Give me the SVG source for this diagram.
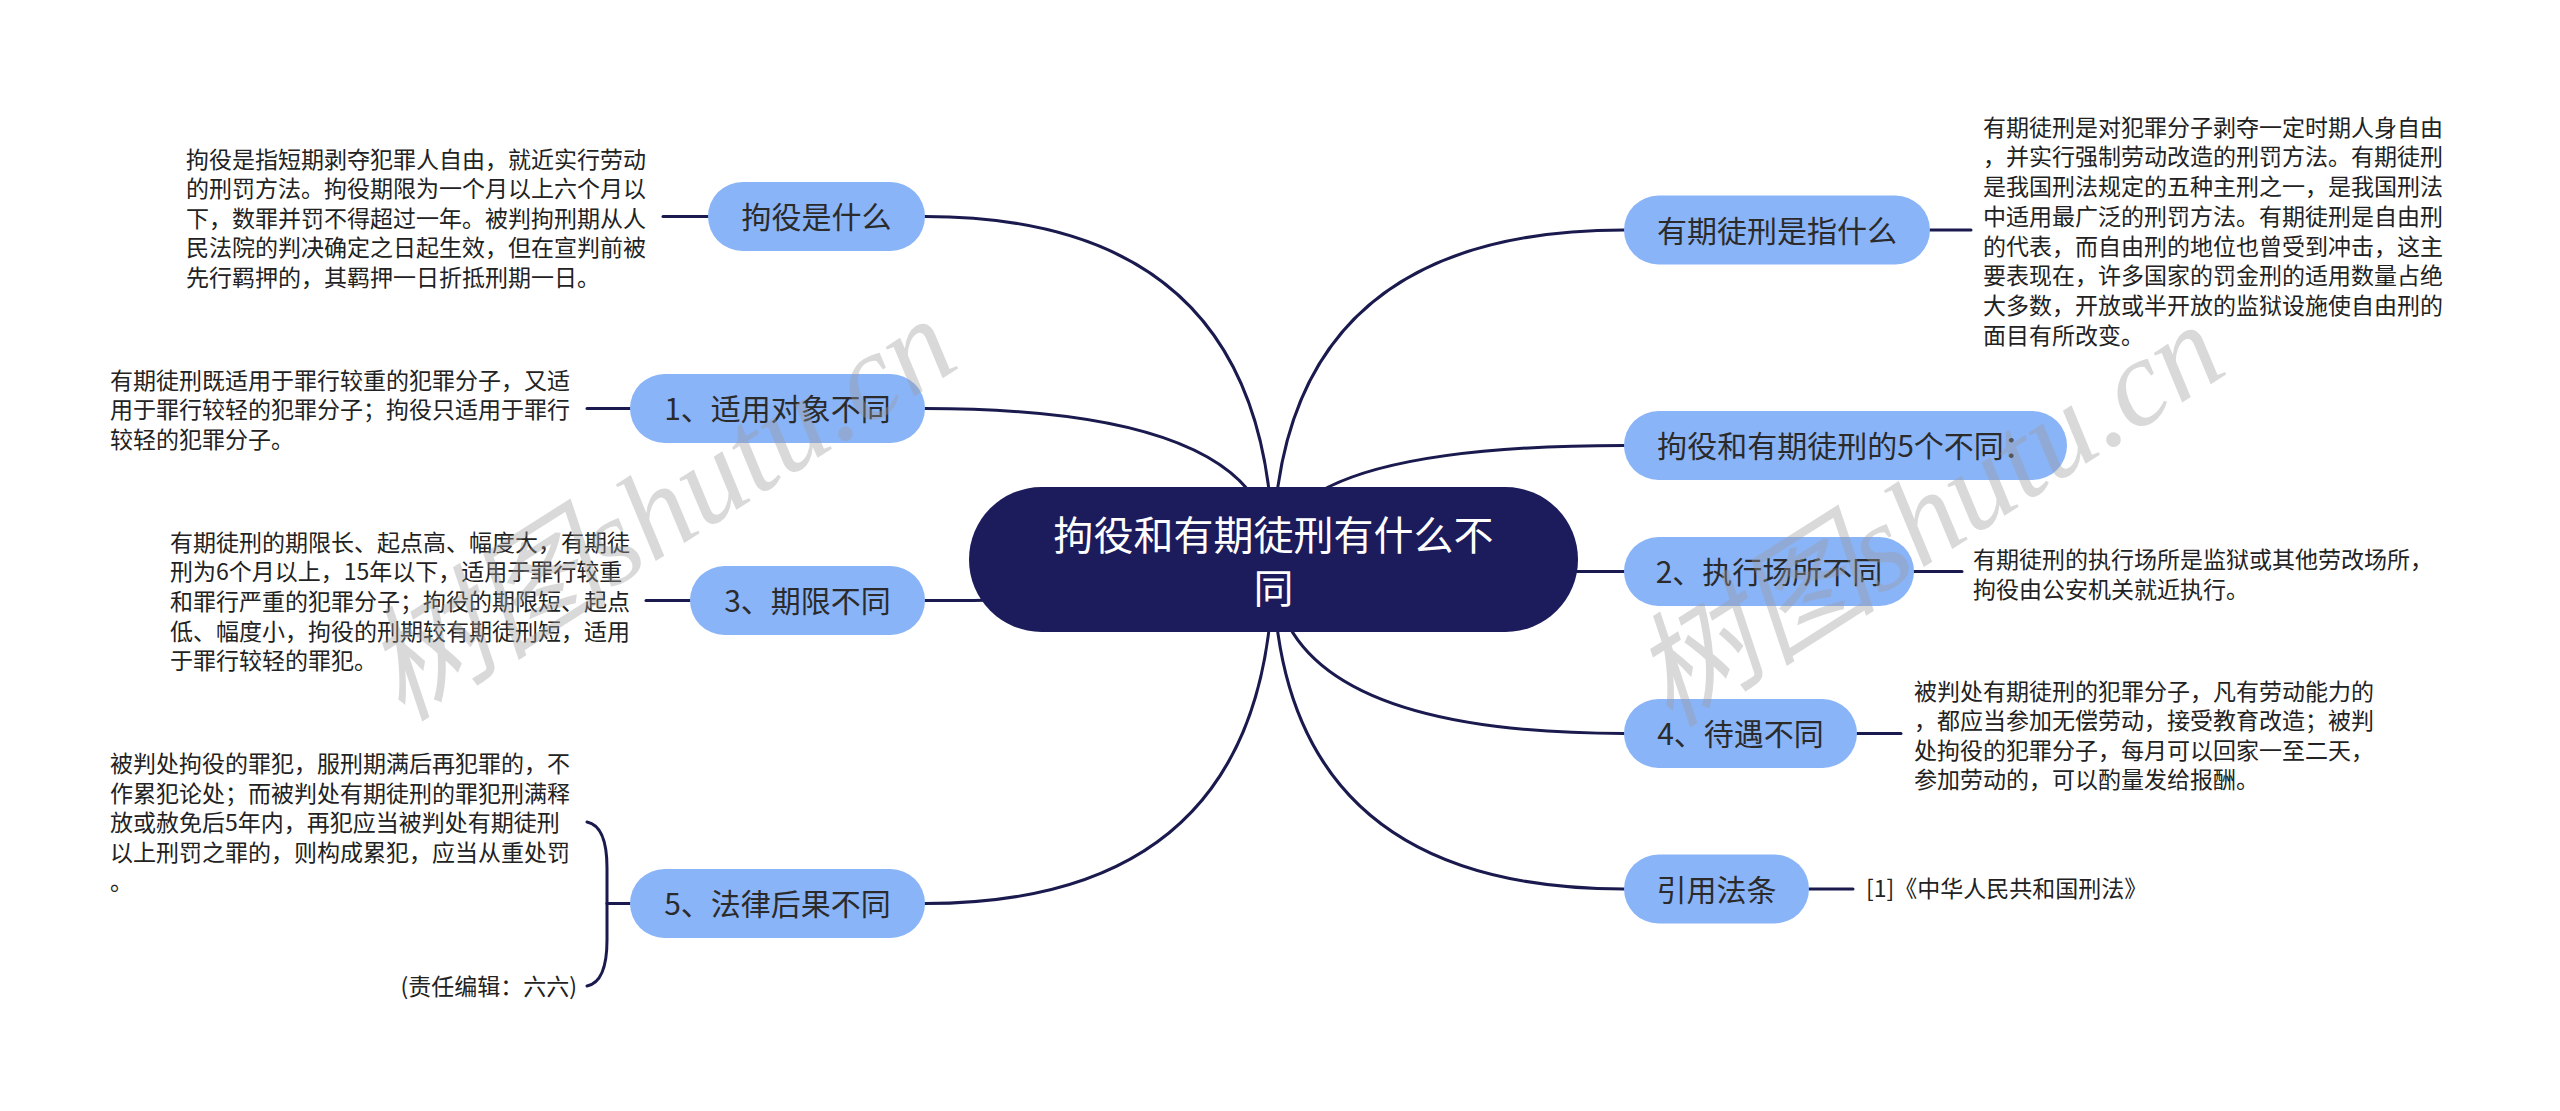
<svg xmlns="http://www.w3.org/2000/svg" width="2560" height="1111" viewBox="0 0 2560 1111">
<style>
.bg{fill:#ffffff}
.wire{fill:none;stroke:#1a1a4e;stroke-width:3;stroke-linecap:round}
.node rect{fill:#8ab4f8}
.node text{font-family:"Noto Sans CJK SC","Noto Sans",sans-serif;font-size:30px;fill:#2b2b2b;text-anchor:middle}
.root rect{fill:#1c1b5b}
.root text{font-family:"Noto Sans CJK SC","Noto Sans",sans-serif;font-size:40px;fill:#ffffff;text-anchor:middle}
.note{font-family:"Noto Sans CJK SC","Noto Sans",sans-serif;font-size:23px;fill:#222222}
.wm{font-family:"Liberation Serif","Noto Sans CJK SC",serif;font-style:italic;font-size:124px;fill:#9a9a9a;fill-opacity:0.38;text-anchor:middle}
</style>
<rect class="bg" x="0" y="0" width="2560" height="1111"/>

<g id="connectors">
  <path class="wire" d="M1273,560 Q1273,216.5 925,216.5"/>
  <path class="wire" d="M1273,560 Q1273,408.5 925,408.5"/>
  <path class="wire" d="M1273,560 Q1273,600.5 925,600.5"/>
  <path class="wire" d="M1273,560 Q1273,903.5 925,903.5"/>
  <path class="wire" d="M1273,560 Q1273,230 1624,230"/>
  <path class="wire" d="M1273,560 Q1273,445.5 1624,445.5"/>
  <path class="wire" d="M1273,560 Q1273,571.5 1624,571.5"/>
  <path class="wire" d="M1273,560 Q1273,733.5 1624,733.5"/>
  <path class="wire" d="M1273,560 Q1273,889 1624,889"/>
  <path class="wire" d="M663,216.5 L708,216.5"/>
  <path class="wire" d="M587,408.5 L630,408.5"/>
  <path class="wire" d="M646,600.5 L690,600.5"/>
  <path class="wire" d="M587,822 Q607,826 607,868 L607,940 Q607,982 587,986"/>
  <path class="wire" d="M607,903.5 L630,903.5"/>
  <path class="wire" d="M1930,230 L1971,230"/>
  <path class="wire" d="M1914,571.5 L1962,571.5"/>
  <path class="wire" d="M1857,733.5 L1901,733.5"/>
  <path class="wire" d="M1809,889 L1853,889"/>
</g>

<g id="root" class="root">
  <rect x="969" y="487" width="609" height="145" rx="72.5"/>
  <text x="1273.5" y="550">拘役和有期徒刑有什么不</text>
  <text x="1273.5" y="603">同</text>
</g>

<g id="n-juyi" class="node">
  <rect x="708" y="182" width="217" height="69" rx="34.5"/>
  <text x="816.5" y="228">拘役是什么</text>
</g>
<g id="n-1" class="node">
  <rect x="630" y="374" width="295" height="69" rx="34.5"/>
  <text x="777.5" y="420">1、适用对象不同</text>
</g>
<g id="n-3" class="node">
  <rect x="690" y="566" width="235" height="69" rx="34.5"/>
  <text x="807.5" y="612">3、期限不同</text>
</g>
<g id="n-5" class="node">
  <rect x="630" y="869" width="295" height="69" rx="34.5"/>
  <text x="777.5" y="915">5、法律后果不同</text>
</g>
<g id="n-youqi" class="node">
  <rect x="1624" y="195.5" width="306" height="69" rx="34.5"/>
  <text x="1777" y="241.5">有期徒刑是指什么</text>
</g>
<g id="n-five" class="node">
  <rect x="1624" y="411" width="443" height="69" rx="34.5"/>
  <text x="1845.5" y="457">拘役和有期徒刑的5个不同：</text>
</g>
<g id="n-2" class="node">
  <rect x="1624" y="537" width="290" height="69" rx="34.5"/>
  <text x="1769" y="583">2、执行场所不同</text>
</g>
<g id="n-4" class="node">
  <rect x="1624" y="699" width="233" height="69" rx="34.5"/>
  <text x="1740.5" y="745">4、待遇不同</text>
</g>
<g id="n-law" class="node">
  <rect x="1624" y="854.5" width="185" height="69" rx="34.5"/>
  <text x="1716.5" y="900.5">引用法条</text>
</g>

<g id="t-juyi">
  <text class="note" x="186" y="167.5">拘役是指短期剥夺犯罪人自由，就近实行劳动</text>
  <text class="note" x="186" y="197.1">的刑罚方法。拘役期限为一个月以上六个月以</text>
  <text class="note" x="186" y="226.7">下，数罪并罚不得超过一年。被判拘刑期从人</text>
  <text class="note" x="186" y="256.3">民法院的判决确定之日起生效，但在宣判前被</text>
  <text class="note" x="186" y="285.9">先行羁押的，其羁押一日折抵刑期一日。</text>
</g>
<g id="t-1">
  <text class="note" x="110" y="388.7">有期徒刑既适用于罪行较重的犯罪分子，又适</text>
  <text class="note" x="110" y="418.3">用于罪行较轻的犯罪分子；拘役只适用于罪行</text>
  <text class="note" x="110" y="447.9">较轻的犯罪分子。</text>
</g>
<g id="t-3">
  <text class="note" x="170" y="550.7">有期徒刑的期限长、起点高、幅度大，有期徒</text>
  <text class="note" x="170" y="580.3">刑为6个月以上，15年以下，适用于罪行较重</text>
  <text class="note" x="170" y="609.9">和罪行严重的犯罪分子；拘役的期限短、起点</text>
  <text class="note" x="170" y="639.5">低、幅度小，拘役的刑期较有期徒刑短，适用</text>
  <text class="note" x="170" y="669.1">于罪行较轻的罪犯。</text>
</g>
<g id="t-5">
  <text class="note" x="110" y="772">被判处拘役的罪犯，服刑期满后再犯罪的，不</text>
  <text class="note" x="110" y="801.6">作累犯论处；而被判处有期徒刑的罪犯刑满释</text>
  <text class="note" x="110" y="831.2">放或赦免后5年内，再犯应当被判处有期徒刑</text>
  <text class="note" x="110" y="860.8">以上刑罚之罪的，则构成累犯，应当从重处罚</text>
  <text class="note" x="110" y="890.4">。</text>
  <text class="note" x="577" y="995" text-anchor="end">(责任编辑：六六)</text>
</g>
<g id="t-youqi">
  <text class="note" x="1983" y="135.7">有期徒刑是对犯罪分子剥夺一定时期人身自由</text>
  <text class="note" x="1983" y="165.4">，并实行强制劳动改造的刑罚方法。有期徒刑</text>
  <text class="note" x="1983" y="195.1">是我国刑法规定的五种主刑之一，是我国刑法</text>
  <text class="note" x="1983" y="224.8">中适用最广泛的刑罚方法。有期徒刑是自由刑</text>
  <text class="note" x="1983" y="254.5">的代表，而自由刑的地位也曾受到冲击，这主</text>
  <text class="note" x="1983" y="284.2">要表现在，许多国家的罚金刑的适用数量占绝</text>
  <text class="note" x="1983" y="313.9">大多数，开放或半开放的监狱设施使自由刑的</text>
  <text class="note" x="1983" y="343.6">面目有所改变。</text>
</g>
<g id="t-2">
  <text class="note" x="1973" y="568">有期徒刑的执行场所是监狱或其他劳改场所，</text>
  <text class="note" x="1973" y="597.5">拘役由公安机关就近执行。</text>
</g>
<g id="t-4">
  <text class="note" x="1914" y="700">被判处有期徒刑的犯罪分子，凡有劳动能力的</text>
  <text class="note" x="1914" y="729.3">，都应当参加无偿劳动，接受教育改造；被判</text>
  <text class="note" x="1914" y="758.6">处拘役的犯罪分子，每月可以回家一至二天，</text>
  <text class="note" x="1914" y="787.9">参加劳动的，可以酌量发给报酬。</text>
</g>
<g id="t-law">
  <text class="note" x="1866" y="897">[1]《中华人民共和国刑法》</text>
</g>

<g id="watermarks">
  <text class="wm" transform="translate(662,512) rotate(-32.5)" x="0" y="38">树图shutu.cn</text>
  <text class="wm" transform="translate(1930,518) rotate(-32.5)" x="0" y="38">树图shutu.cn</text>
</g>
</svg>
